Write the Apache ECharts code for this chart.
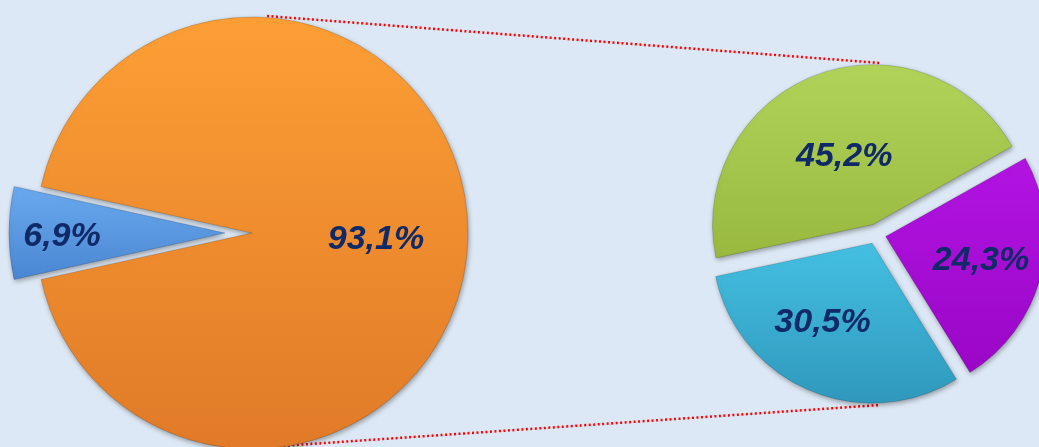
<!DOCTYPE html>
<html>
<head>
<meta charset="utf-8">
<script src="https://cdn.jsdelivr.net/npm/echarts@6/dist/echarts.min.js"></script>
<style>
html,body{margin:0;padding:0;background:#dce8f5;}
#main{width:1039px;height:447px;}
</style>
</head>
<body>
<div id="main"></div>
<script>
// 左侧主饼图
var mainNames = ['其他', '主要'];
var mainValues = [6.9, 93.1];
var mainLabels = ['6,9%', '93,1%'];
// 右侧子饼图（“其他”拆分）
var subNames = ['A', 'B', 'C'];
var subValues = [45.2, 24.3, 30.5];
var subLabels = ['45,2%', '24,3%', '30,5%'];

var LCX = 252, LCY = 233, LR = 216;   // 左饼
var RCX = 876, RCY = 234, RR = 160;   // 右饼

function grad(top, bottom) {
    return new echarts.graphic.LinearGradient(0, 0, 0, 1, [
        {offset: 0, color: top},
        {offset: 1, color: bottom}
    ]);
}
var mainColors = [grad('#6aa9ee', '#4a86d2'), grad('#fd9f35', '#e07a28')];
var subColors = [grad('#b2d35a', '#98b93e'), grad('#b214e2', '#9a06c6'), grad('#44c0e2', '#2f98bc')];

var labelFont = {
    color: '#0f2a66', fontSize: 34, fontWeight: 'bold', fontStyle: 'italic',
    fontFamily: 'Liberation Sans, Arial, sans-serif'
};

// 生成一个扇区数据项，标签位置做微调（选中状态也要同样设置）
function makeItem(name, value, color, text, pad, off, selected) {
    var lab = Object.assign({show: true, position: 'inside', formatter: text, padding: pad, offset: off}, labelFont);
    return {
        name: name, value: value, selected: selected,
        itemStyle: {color: color}, label: lab,
        select: {label: {offset: off}}
    };
}

function buildMain() {
    var list = [];
    var pads = [[0, 104, 0, 0], [0, 0, 0, 26]];
    var offs = [[0, 4], [0, 7]];
    for (var i = 0; i < mainValues.length; i++) {
        list.push(makeItem(mainNames[i], mainValues[i], mainColors[i], mainLabels[i], pads[i], offs[i], i == 0));
    }
    return list;
}
function buildSub() {
    var list = [];
    var pads = [[0, 0, 0, 2], [0, 0, 0, 30], [0, 34, 0, 0]];
    var offs = [[0, 10], [0, 3], [0, 3]];
    for (var i = 0; i < subValues.length; i++) {
        list.push(makeItem(subNames[i], subValues[i], subColors[i], subLabels[i], pads[i], offs[i], true));
    }
    return list;
}

var sliceStyle = {
    shadowBlur: 5, shadowColor: 'rgba(0,0,0,0.35)', shadowOffsetX: 1, shadowOffsetY: 2,
    borderColor: 'rgba(0,0,0,0.15)', borderWidth: 1
};
var dotted = {stroke: '#ff0000', lineWidth: 2.5, lineDash: [2, 2.5]};

var option = {
    backgroundColor: '#dce8f5',
    animation: false,
    graphic: [
        {type: 'line', z: -1, shape: {x1: LCX + 15, y1: LCY - LR - 1, x2: RCX + 4, y2: RCY - RR - 11}, style: dotted},
        {type: 'line', z: -1, shape: {x1: LCX, y1: LCY + LR - 1, x2: RCX + 4, y2: RCY + RR + 11}, style: dotted}
    ],
    series: [
        {
            type: 'pie', center: [LCX, LCY], radius: LR,
            startAngle: 180 + 6.9 * 1.8, clockwise: true,
            selectedMode: 'single', selectedOffset: 27,
            emphasis: {disabled: true}, silent: true,
            labelLine: {show: false},
            itemStyle: sliceStyle,
            data: buildMain()
        },
        {
            type: 'pie', center: [RCX, RCY], radius: RR,
            startAngle: 192, clockwise: true,
            selectedMode: 'multiple', selectedOffset: 10,
            emphasis: {disabled: true}, silent: true,
            labelLine: {show: false},
            itemStyle: sliceStyle,
            data: buildSub()
        }
    ]
};
var myChart = echarts.init(document.getElementById('main'));
myChart.setOption(option);
</script>
</body>
</html>
